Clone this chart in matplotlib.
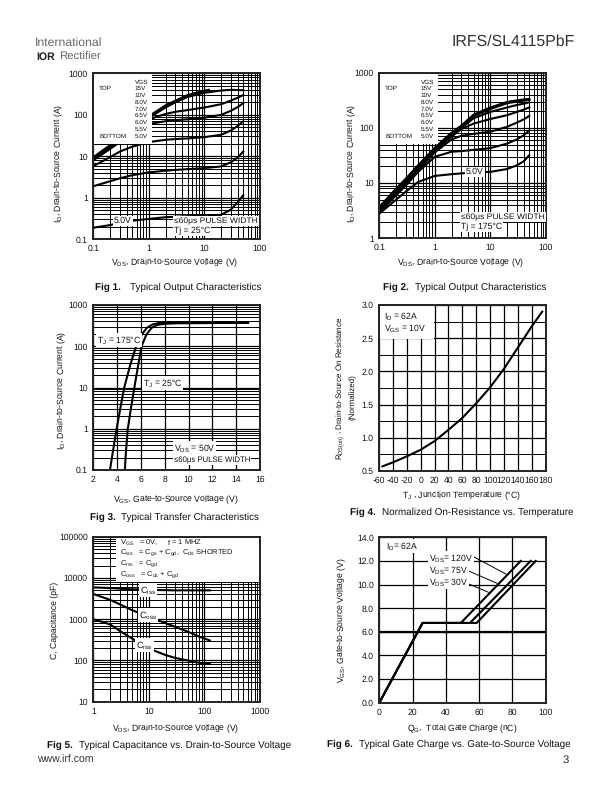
import matplotlib
matplotlib.use("Agg")
import matplotlib.pyplot as plt
from matplotlib.patches import Rectangle
from matplotlib.ticker import LogLocator, NullFormatter, MultipleLocator

plt.rcParams['font.family'] = ['Liberation Sans', 'DejaVu Sans']
plt.rcParams['mathtext.fontset'] = 'custom'
plt.rcParams['mathtext.rm'] = 'Liberation Sans'
plt.rcParams['mathtext.default'] = 'regular'
plt.rcParams['text.hinting'] = 'none'

W, H = 612, 792
FS = 6.2
CAP = 7.1
GRAY = '#333333'

# fig 1, output characteristics at 25C
vds1 = [0.1, 0.2, 0.3, 0.5, 1, 2, 3, 5, 10, 20, 30, 40, 50]
id1_50 = [0.19, 0.22, 0.25, 0.28, 0.31, 0.34, 0.35, 0.36, 0.37, 0.39, 0.52, 0.8, 1.15]
id1_55 = [1.9, 2.5, 2.95, 3.5, 4.1, 4.5, 4.7, 4.9, 5.2, 5.7, 7.2, 9.5, 13]
id1_60 = [5.8, 9.5, 13, 17, 22, 25, 26, 27, 29, 33, 42, 54, 70]
id1_65 = [8, 15, 22, 35, 60, 70, 74, 78, 85, 100, 125, 155, 190]
id1_70 = [8.5, 16, 24, 38, 78, 105, 118, 130, 150, 180, 220, 260, 300]
id1_80 = [9, 17, 25, 42, 85, 150, 200, 270, 340, 385, 400, 395, 390]
vds1_hi = [0.1, 0.2, 0.5, 1, 2, 5, 10, 12]
id1_10 = [9.2, 18, 44, 88, 160, 290, 370, 390]
id1_15 = [9.5, 18.5, 46, 92, 170, 300, 380, 400]

# fig 2, output characteristics at 175C
vds2 = [0.1, 0.2, 0.3, 0.5, 1, 2, 3, 5, 10, 20, 30, 40, 50]
id2_50 = [2.8, 5, 7, 10.5, 13.5, 14.5, 15, 15.5, 16, 18, 21, 25, 32]
id2_55 = [2.9, 6, 9, 16, 30, 37, 38, 40, 43, 52, 62, 74, 90]
id2_60 = [3, 6.3, 9.8, 17, 36, 62, 72, 78, 85, 105, 125, 143, 165]
id2_65 = [3.2, 6.8, 10.5, 18, 38, 70, 95, 120, 145, 170, 195, 215, 235]
id2_70 = [3.3, 7.1, 11, 19, 40, 75, 100, 150, 195, 235, 260, 275, 290]
id2_80 = [3.5, 7.5, 11.5, 20, 42, 78, 105, 165, 220, 280, 300, 312, 320]
id2_10 = [3.6, 7.7, 11.8, 20.5, 43, 80, 108, 170, 230, 290, 310, 322, 330]
id2_15 = [3.7, 7.9, 12, 21, 44, 82, 110, 175, 235, 295, 315, 327, 335]

# fig 3, transfer
vgs_175 = [3.4, 3.7, 3.96, 4.3, 4.6, 5.1, 5.6, 6.0, 6.5, 7.0, 7.5, 8, 15]
id_175 = [0.1, 0.35, 1, 3.5, 10, 35, 100, 180, 280, 340, 365, 372, 375]
vgs_25 = [4.65, 4.75, 4.9, 5.15, 5.45, 5.75, 6.05, 6.45, 6.9, 7.4, 8, 9, 15]
id_25 = [0.1, 0.3, 1, 3, 10, 32, 100, 190, 280, 330, 350, 360, 370]

# fig 4, on resistance
tj = [-55, -40, -20, 0, 20, 40, 60, 80, 100, 120, 140, 160, 175]
rds = [0.57, 0.63, 0.72, 0.82, 0.95, 1.12, 1.3, 1.52, 1.76, 2.04, 2.36, 2.68, 2.9]
tj_ticks = list(range(-60, 181, 20))
tj_labels = [str(v) for v in tj_ticks]

# fig 5, capacitance
vds_c = [1, 2, 3, 5, 10, 20, 30, 50, 80, 125]
ciss = [5900, 5700, 5500, 5300, 5150, 5050, 5000, 5000, 5000, 5000]
coss = [4100, 2950, 2300, 1650, 1150, 800, 650, 500, 380, 305]
crss = [1000, 750, 520, 340, 195, 135, 115, 100, 88, 82]

# fig 6, gate charge
qg_120 = [0, 26, 49, 85]
qg_75 = [0, 26, 54.5, 91]
qg_30 = [0, 26, 58.5, 94]
vgs_q = [0, 6.75, 6.75, 12]

decades = [1e-1, 1, 10, 100, 1000, 10000, 100000]


def px_axes(x0, y0, x1, y1):
    return fig.add_axes([x0 / W, 1 - y1 / H, (x1 - x0) / W, (y1 - y0) / H])


def t(x, y, s, **kw):
    kw.setdefault('fontsize', FS)
    kw.setdefault('color', '#111111')
    kw.setdefault('va', 'center')
    return fig.text(x / W, 1 - y / H, s, **kw)


def white_t(x, y, s, **kw):
    # label sitting on the grid, with white behind it
    return t(x, y, s, zorder=20, bbox=dict(fc='white', ec='none', pad=0.6), **kw)


def style(ax):
    for s in ax.spines.values():
        s.set_linewidth(1.4)
        s.set_color('#222222')
        s.set_zorder(15)
    ax.tick_params(which='both', length=0, labelsize=FS, pad=4, colors='#111111')
    ax.set_axisbelow(True)
    ax.grid(which='major', color='black', lw=0.9)
    ax.grid(which='minor', color='black', lw=0.7)


def log_axis(ax, axis, lo, hi):
    ticks = [d for d in decades if lo <= d <= hi]
    labels = ['%g' % d for d in ticks]
    if axis == 'x':
        ax.set_xscale('log')
        ax.set_xlim(lo, hi)
        ax.set_xticks(ticks, labels)
        ax.xaxis.set_minor_locator(LogLocator(10, subs=range(2, 10), numticks=12))
        ax.xaxis.set_minor_formatter(NullFormatter())
    else:
        ax.set_yscale('log')
        ax.set_ylim(lo, hi)
        ax.set_yticks(ticks, labels)
        ax.yaxis.set_minor_locator(LogLocator(10, subs=range(2, 10), numticks=12))
        ax.yaxis.set_minor_formatter(NullFormatter())


def cover(x0, y0, x1, y1):
    fig.add_artist(Rectangle((x0 / W, 1 - y1 / H), (x1 - x0) / W, (y1 - y0) / H,
                             transform=fig.transFigure, fc='white', ec='none', zorder=10))


def vgs_table(xl, xr, y0):
    rows = ['VGS', '15V', '10V', '8.0V', '7.0V', '6.5V', '6.0V', '5.5V', '5.0V']
    for i, r in enumerate(rows):
        t(xr, y0 + i * 6.75, r, fontsize=4.6, zorder=20)
    t(xl, y0 + 6.75, 'TOP', fontsize=4.6, zorder=20)
    t(xl, y0 + 8 * 6.75, 'BOTTOM', fontsize=4.6, zorder=20)


def caption(x_fig, x_txt, y, num, s):
    t(x_fig, y, 'Fig %d.' % num, fontweight='bold', fontsize=CAP)
    t(x_txt, y, s, fontsize=CAP)


fig = plt.figure(figsize=(W / 100, H / 100), dpi=100)

# header and footer
t(35, 43, 'International', fontsize=8.8, color='#666666', fontweight='light')
t(36, 57, 'IOR', fontsize=7.6, color='#222222', fontweight='bold')
t(59, 57, 'Rectifier', fontsize=8.2, color='#666666')
t(452, 42, 'IRFS/SL4115PbF', fontsize=11.4, color=GRAY)
t(37, 760, 'www.irf.com', fontsize=7.6, color=GRAY)
t(563, 760, '3', fontsize=8.2, color=GRAY)

# Fig 1
ax1 = px_axes(93.3, 73.3, 260, 239.3)
log_axis(ax1, 'x', 0.1, 100)
log_axis(ax1, 'y', 0.1, 1000)
style(ax1)
for cur in [id1_50, id1_55, id1_60, id1_65, id1_70, id1_80]:
    ax1.plot(vds1, cur, color='black', lw=1.5)
for cur in [id1_10, id1_15]:
    ax1.plot(vds1_hi, cur, color='black', lw=1.5)
cover(94, 74, 151.5, 144)
vgs_table(99, 135, 82)
white_t(114, 221, '5.0V')
white_t(174, 221, '≤60μs PULSE WIDTH', fontsize=6.1)
white_t(174, 231, 'Tj = 25°C')
t(59, 163, '$I_D$, Drain-to-Source Current (A)', rotation=90, ha='center')
t(175, 263, '$V_{DS}$, Drain-to-Source Voltage (V)', ha='center')
caption(95, 130, 287, 1, 'Typical Output Characteristics')

# Fig 2
ax2 = px_axes(379.3, 72.7, 546, 238.3)
log_axis(ax2, 'x', 0.1, 100)
log_axis(ax2, 'y', 1, 1000)
style(ax2)
for cur in [id2_50, id2_55, id2_60, id2_65, id2_70, id2_80, id2_10, id2_15]:
    ax2.plot(vds2, cur, color='black', lw=1.5)
cover(380, 74, 438, 144)
vgs_table(385, 421, 82)
white_t(466, 172, '5.0V')
white_t(461, 217, '≤60μs PULSE WIDTH', fontsize=6.1)
white_t(461, 227, 'Tj = 175°C')
t(352, 163, '$I_D$, Drain-to-Source Current (A)', rotation=90, ha='center')
t(461, 263, '$V_{DS}$, Drain-to-Source Voltage (V)', ha='center')
caption(383, 415, 287, 2, 'Typical Output Characteristics')

# Fig 3
ax3 = px_axes(93.3, 305, 260, 470)
log_axis(ax3, 'y', 0.1, 1000)
ax3.set_xlim(2, 16)
ax3.set_xticks(range(2, 17, 2))
style(ax3)
ax3.plot(vgs_175, id_175, color='black', lw=1.5)
ax3.plot(vgs_25, id_25, color='black', lw=1.5)
white_t(97, 340, '$T_J$ = 175°C')
white_t(143, 383, '$T_J$ = 25°C')
white_t(174, 448, '$V_{DS}$ = 50V')
white_t(174, 460, '≤60μs PULSE WIDTH', fontsize=5.6)
t(62, 390, '$I_D$, Drain-to-Source Current (A)', rotation=90, ha='center')
t(176, 500, '$V_{GS}$, Gate-to-Source Voltage (V)', ha='center')
caption(90, 121, 517, 3, 'Typical Transfer Characteristics')

# Fig 4
ax4 = px_axes(379, 305, 545.7, 471)
ax4.set_xlim(-60, 180)
ax4.set_ylim(0.5, 3.0)
ax4.set_xticks(tj_ticks, tj_labels)
ax4.set_yticks([0.5, 1.0, 1.5, 2.0, 2.5, 3.0], ['0.5', '1.0', '1.5', '2.0', '2.5', '3.0'])
ax4.yaxis.set_minor_locator(MultipleLocator(0.25))
style(ax4)
ax4.plot(tj, rds, color='black', lw=1.5)
cover(380, 306, 434, 339)
t(384, 316, '$I_D$ = 62A', zorder=20)
t(384, 328, '$V_{GS}$ = 10V', zorder=20)
t(341, 388, '$R_{DS(on)}$ , Drain-to-Source On Resistance', rotation=90, ha='center', fontsize=5.8)
t(353, 397, '(Normalized)', rotation=90, ha='center', fontsize=5.8)
t(461, 496, '$T_J$ , Junction Temperature (°C)', ha='center')
caption(350, 382, 512, 4, 'Normalized On-Resistance vs. Temperature')

# Fig 5
ax5 = px_axes(93.3, 536.7, 260, 701.7)
log_axis(ax5, 'x', 1, 1000)
log_axis(ax5, 'y', 10, 100000)
style(ax5)
for cur in [ciss, coss, crss]:
    ax5.plot(vds_c, cur, color='black', lw=1.5)
cover(116, 538, 259, 582)
t(120, 543, '$V_{GS}$   = 0V,     f = 1 MHZ', zorder=20, fontsize=5.4)
t(120, 553, '$C_{iss}$   = $C_{gs}$ + $C_{gd}$,  $C_{ds}$ SHORTED', zorder=20, fontsize=5.4)
t(120, 564, '$C_{rss}$   = $C_{gd}$', zorder=20, fontsize=5.4)
t(120, 575, '$C_{oss}$   = $C_{ds}$ + $C_{gd}$', zorder=20, fontsize=5.4)
white_t(140, 590, '$C_{iss}$', fontsize=6.6)
white_t(139, 615, '$C_{oss}$', fontsize=6.6)
white_t(136, 645, '$C_{rss}$', fontsize=6.6)
t(55, 620, 'C, Capacitance (pF)', rotation=90, ha='center')
t(176, 729, '$V_{DS}$, Drain-to-Source Voltage (V)', ha='center')
caption(47, 79, 745, 5, 'Typical Capacitance vs. Drain-to-Source Voltage')

# Fig 6
ax6 = px_axes(379.3, 537.3, 545.7, 702.7)
ax6.set_xlim(0, 100)
ax6.set_ylim(0, 14)
ax6.set_xticks(range(0, 101, 20))
ax6.set_yticks(range(0, 15, 2), ['%.1f' % v for v in range(0, 15, 2)])
style(ax6)
ax6.plot(qg_120, vgs_q, color='black', lw=1.5)
ax6.plot(qg_75, vgs_q, color='black', lw=1.5)
ax6.plot(qg_30, vgs_q, color='black', lw=1.5)
ax6.axhline(6, color='black', lw=1.6, zorder=1)
white_t(386, 546, '$I_D$= 62A')
white_t(429, 558, '$V_{DS}$= 120V')
white_t(429, 570, '$V_{DS}$= 75V')
white_t(429, 582, '$V_{DS}$= 30V')
ax6.plot([56, 76], [12.4, 10.9], color='black', lw=0.7)
ax6.plot([52.9, 70.8], [11.2, 10.1], color='black', lw=0.7)
ax6.plot([52.9, 65.5], [10.1, 9.35], color='black', lw=0.7)
t(342, 620, '$V_{GS}$, Gate-to-Source Voltage (V)', rotation=90, ha='center')
t(462, 729, '$Q_G$,  Total Gate Charge (nC)', ha='center')
caption(327, 359, 744, 6, 'Typical Gate Charge vs. Gate-to-Source Voltage')

fig.savefig('out.png', dpi=100)
